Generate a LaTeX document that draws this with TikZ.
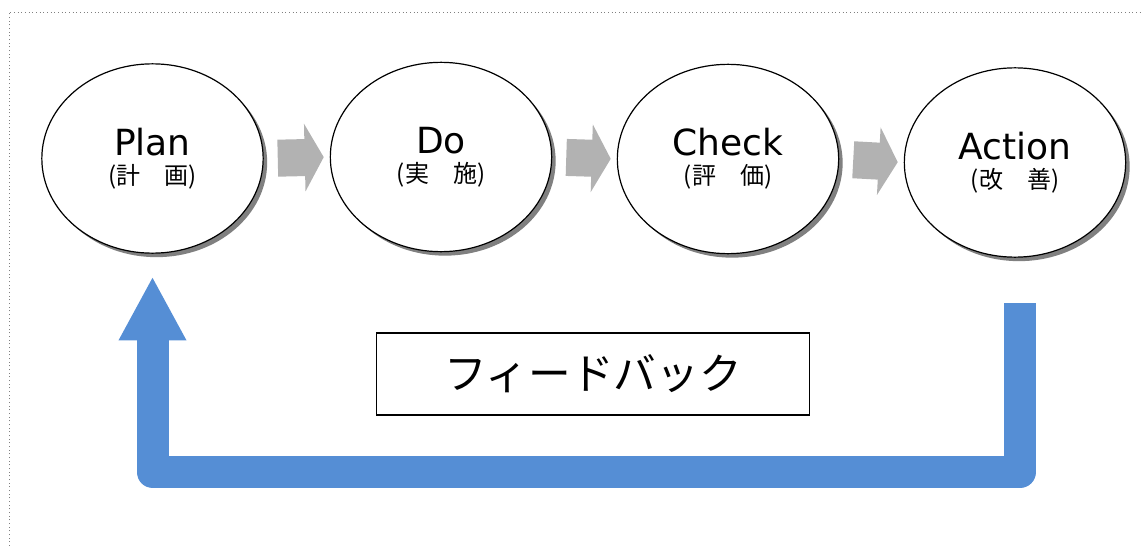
\documentclass[tikz,border=0pt]{standalone}
\usepackage{fontspec}
\setmainfont{Noto Sans CJK JP}
\newfontfamily\latinfont{DejaVu Sans}
\usepackage{tikz}
\usetikzlibrary{arrows.meta, shadows, shapes.geometric}

\definecolor{fbblue}{RGB}{85,142,213}
\definecolor{stepgray}{RGB}{178,178,178}

\newcommand{\phaselabel}[2]{{\latinfont\fontsize{27}{22}\selectfont #1}\\{\fontsize{18}{22}\selectfont #2}}

\tikzset{
  phase/.style={ellipse, draw, line width=0.9pt, fill=white, minimum width=166pt, minimum height=142pt, inner sep=0pt, align=center,
    font=\fontsize{18}{22}\selectfont,
    drop shadow={shadow xshift=3pt, shadow yshift=-3pt, fill=black!50, opacity=1}},
  steparrow/.style={draw=stepgray, line width=27.75pt, -{Triangle[length=14.25pt, width=50.25pt]}, shorten <=10.5pt, shorten >=4.5pt},
  feedback/.style={draw=fbblue, line width=24pt, line join=round, -{Triangle[length=48pt, width=47.25pt]}, shorten >=17pt},
  fbbox/.style={draw, line width=1pt, minimum width=325pt, minimum height=61.5pt, font=\fontsize{32}{32}\selectfont}
}

\begin{document}
\begin{tikzpicture}[x=0.75pt, y=-0.75pt]
\useasboundingbox (0,0) rectangle (1143,546);
\draw[gray, dotted, line width=0.75pt] (9,546)--(9,12)--(1143,12);

% the four phases
\node[phase] (plan) at (152.5,158.5) {\phaselabel{Plan}{(計　画)}};
\node[phase] (do) at (441,157) {\phaselabel{Do}{(実　施)}};
\node[phase] (check) at (728,159) {\phaselabel{Check}{(評　価)}};
\node[phase] (action) at (1015,162.5) {\phaselabel{Action}{(改　善)}};

\draw[steparrow] (plan.east)--(do.west);
\draw[steparrow] (do.east)--(check.west);
\draw[steparrow] (check.east)--(action.west);

% feedback loop
\coordinate (fbstart) at (1020,303);
\coordinate (fbbottom) at (1020,472);
\draw[feedback] (fbstart)--(fbbottom) -| (plan.south);
\node[fbbox] (fb) at (593,374) {フィードバック};
\end{tikzpicture}
\end{document}
